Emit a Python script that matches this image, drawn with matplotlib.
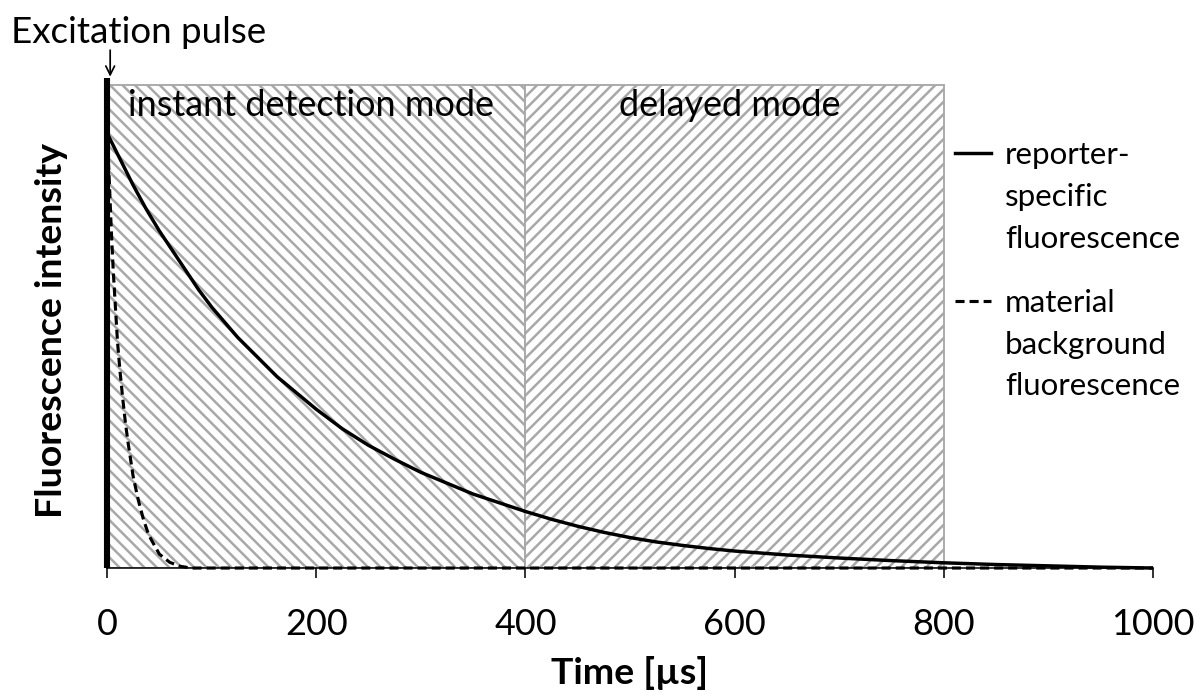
import matplotlib
matplotlib.use("Agg")
import matplotlib.pyplot as plt
from matplotlib.lines import Line2D

# ---------------- data ----------------
time_reporter = [0, 12.5, 25, 37.5, 50, 62.5, 75, 87.5, 100, 112.5, 125, 137.5,
                 150, 162.5, 175, 187.5, 200, 225, 250, 275, 300, 325, 350, 375,
                 400, 425, 450, 475, 500, 525, 550, 575, 600, 650, 700, 750,
                 800, 850, 900, 950, 1000]
reporter = [100, 94, 88, 82.5, 77.5, 73, 68.5, 64, 60, 56.5, 53, 50,
            47, 44, 41.5, 39, 36.5, 32, 28.2, 25, 22, 19.5, 17, 15,
            13, 11.2, 9.6, 8.2, 7.0, 6.0, 5.2, 4.5, 3.9, 3.0, 2.3, 1.7,
            1.2, 0.8, 0.5, 0.2, 0.0]

time_background = [0, 2, 4, 6, 8, 10, 12.5, 15, 17.5, 20, 25, 30, 35, 40, 50,
                   60, 70, 80, 1000]
background = [100, 90, 78, 68, 60, 52, 45, 39, 33.5, 29, 21, 15.5, 11, 7.5, 3.2,
              1.3, 0.4, 0.0, 0.0]

regions_start = [0, 400]
regions_end = [400, 800]
region_labels = ["instant detection mode", "delayed mode"]
region_hatches = ["\\\\\\", "///"]
region_top = 111

pulse_time = 0
pulse_height = 112.6

xticks = [0, 200, 400, 600, 800, 1000]
legend_reporter = ["reporter-", "specific", "fluorescence"]
legend_background = ["material", "background", "fluorescence"]

# ---------------- style ----------------
DPI = 112.5
plt.rcParams["font.family"] = ["Lato", "DejaVu Sans"]
plt.rcParams["hatch.linewidth"] = 1.6
plt.rcParams["hatch.color"] = "#bdbdbd"

fig = plt.figure(figsize=(1200 / DPI, 695 / DPI), dpi=DPI)
ax = fig.add_axes([0.0892, 0.1827, 0.8717, 0.7072])

# hatched regions
for s, e, h in zip(regions_start, regions_end, region_hatches):
    ax.bar(s, region_top, width=e - s, bottom=0, align="edge",
           facecolor="white", edgecolor="#a8a8a8", linewidth=1.2,
           hatch=h, zorder=1)

# region labels
for s, e, lab in zip(regions_start, regions_end, region_labels):
    ax.text((s + e) / 2 - 5, region_top - 4.6, lab, ha="center", va="center",
            fontsize=23, color="black", zorder=5)

# curves
ax.plot(time_reporter, reporter, color="black", lw=2.2, zorder=4,
        solid_capstyle="butt", solid_joinstyle="round", clip_on=False)
ax.plot(time_background, background, color="black", lw=2.0,
        linestyle=(0, (2.9, 1.6)), zorder=4, clip_on=False)

# excitation pulse
ax.vlines(pulse_time, 0, pulse_height, color="black", lw=3.9, zorder=6,
          clip_on=False)
ax.annotate("", xy=(pulse_time + 3, pulse_height), xytext=(0, 18),
            textcoords="offset points",
            arrowprops=dict(arrowstyle="->", color="black", lw=1.1,
                            mutation_scale=14, shrinkA=0, shrinkB=1))
ax.annotate("Excitation pulse", xy=(pulse_time, pulse_height),
            xytext=(20, 29), textcoords="offset points",
            ha="center", va="center", fontsize=23.5, annotation_clip=False)

# axes
ax.set_xlim(0, 1000)
ax.set_ylim(0, 113)
ax.set_xticks(xticks)
ax.set_xticklabels([str(t) for t in xticks])
ax.set_yticks([])
for sp in ["left", "top", "right"]:
    ax.spines[sp].set_visible(False)
ax.spines["bottom"].set_color("black")
ax.spines["bottom"].set_linewidth(1.0)
ax.tick_params(axis="x", direction="out", length=6.5, width=1.0,
               labelsize=23, pad=19, colors="black")
ax.set_xlabel("Time [µs]", fontsize=24, fontweight="bold")
ax.xaxis.set_label_coords(0.5, -0.178)
ax.set_ylabel("Fluorescence intensity", fontsize=24, fontweight="bold")
ax.yaxis.set_label_coords(-0.037, 0.484)

# legend (one entry per text line, key on the first line)
blank = Line2D([], [], color="none")
h1 = [Line2D([], [], color="black", lw=2.2), blank, blank]
h2 = [Line2D([], [], color="black", lw=2.0, linestyle=(0, (2.9, 1.6))),
      blank, blank]
common = dict(frameon=False, loc="upper left", fontsize=20,
              handlelength=1.15, handletextpad=0.45, borderpad=0,
              borderaxespad=0, labelspacing=0.44,
              bbox_transform=fig.transFigure)
leg1 = ax.legend(h1, legend_reporter, bbox_to_anchor=(955 / 1200, 1 - 141 / 695),
                 **common)
ax.add_artist(leg1)
leg2 = ax.legend(h2, legend_background, bbox_to_anchor=(955 / 1200, 1 - 289 / 695),
                 **common)

fig.savefig("out.png", dpi=DPI)
